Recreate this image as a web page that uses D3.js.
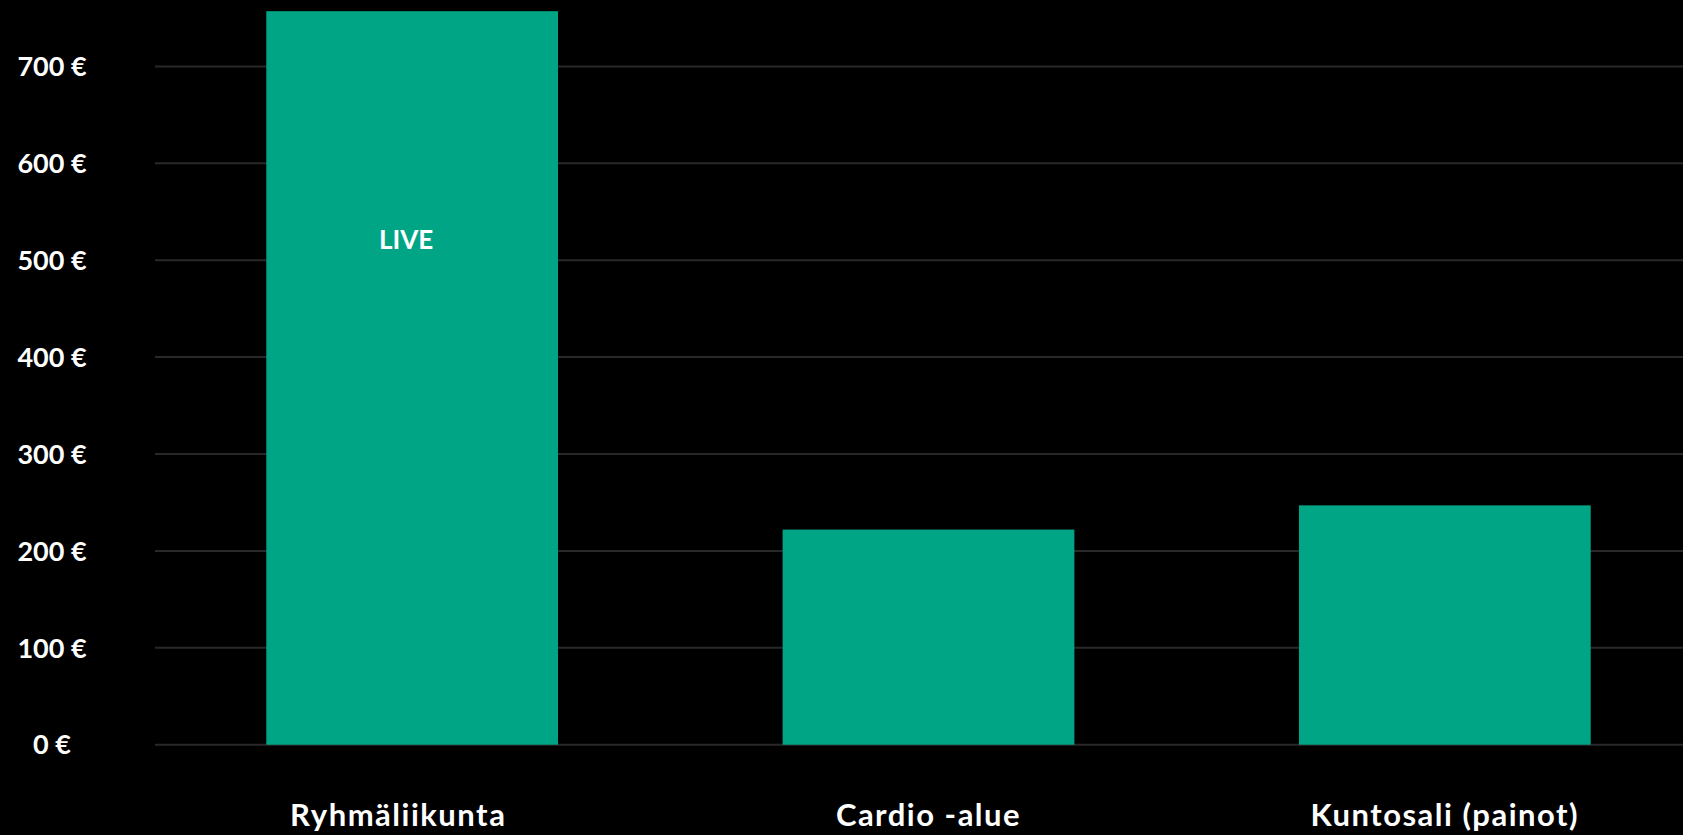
<!DOCTYPE html>
<html>
<head>
<meta charset="utf-8">
<script src="https://cdn.jsdelivr.net/npm/d3@7"></script>
<style>
  html, body { margin: 0; padding: 0; background: #000; }
  svg { display: block; }
  text { font-family: Lato, "Open Sans", sans-serif; font-weight: 700; fill: #fff; }
</style>
</head>
<body>
<svg width="1683" height="835"></svg>
<script>
// chart data
var categories = ["Ryhmäliikunta", "Cardio -alue", "Kuntosali (painot)"];
var values = [757, 222, 247];
var barNotes = ["LIVE", "", ""];
var yTicks = [0, 100, 200, 300, 400, 500, 600, 700];

function main(){
    var svg = d3.select("svg"),
        width = +svg.attr("width");

    var xScale = d3.scaleBand().domain(categories)
            .range([154, 1703]).paddingInner(0.435).paddingOuter(0.2175),
        yScale = d3.scaleLinear().domain([0, 700]).range([744.7, 66.4]);

    var data = categories.map(function(c, i){
        return {name: c, value: values[i], note: barNotes[i]};
    });

    // gridlines
    svg.append("g").selectAll("line")
        .data(yTicks)
        .enter().append("line")
        .attr("x1", 155)
        .attr("x2", width)
        .attr("y1", function(d){ return yScale(d); })
        .attr("y2", function(d){ return yScale(d); })
        .attr("stroke", "#2a282a")
        .attr("stroke-width", 2);

    // y labels
    svg.append("g").selectAll("text")
        .data(yTicks)
        .enter().append("text")
        .attr("x", 52)
        .attr("y", function(d){ return yScale(d); })
        .attr("dy", "0.36em")
        .attr("text-anchor", "middle")
        .style("font-size", "27px")
        .text(function(d){ return d + " €"; });

    // bars
    svg.selectAll(".bar")
        .data(data)
        .enter().append("rect")
        .attr("class", "bar")
        .attr("x", function(d){ return xScale(d.name); })
        .attr("y", function(d){ return yScale(d.value); })
        .attr("width", xScale.bandwidth())
        .attr("height", function(d){ return yScale(0) - yScale(d.value); })
        .attr("fill", "#00a586");

    // note inside bar
    svg.selectAll(".note")
        .data(data.filter(function(d){ return d.note; }))
        .enter().append("text")
        .attr("class", "note")
        .attr("x", function(d){ return xScale(d.name) + xScale.bandwidth() / 2 - 6; })
        .attr("y", function(d){ return yScale(d.value) + 228; })
        .attr("dy", "0.36em")
        .attr("text-anchor", "middle")
        .style("font-size", "26px")
        .text(function(d){ return d.note; });

    // category labels
    svg.selectAll(".cat")
        .data(data)
        .enter().append("text")
        .attr("class", "cat")
        .attr("x", function(d, i){ return xScale(d.name) + xScale.bandwidth() / 2 - (i === 0 ? 14 : 0); })
        .attr("y", 826)
        .attr("text-anchor", "middle")
        .style("font-size", "31px")
        .style("letter-spacing", "1.5px")
        .text(function(d){ return d.name; });
}
main();
</script>
</body>
</html>
